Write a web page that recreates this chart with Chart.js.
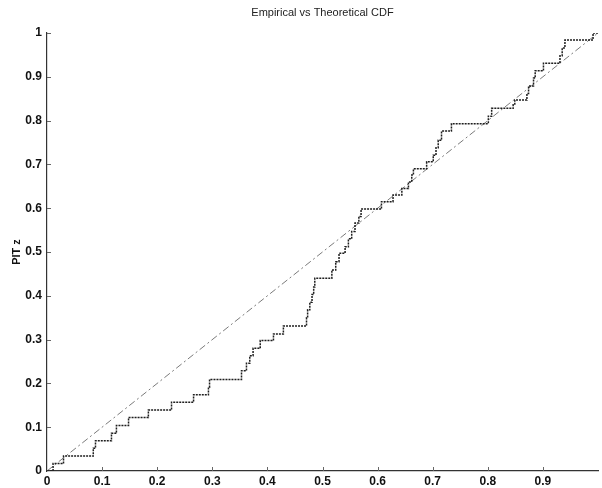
<!DOCTYPE html>
<html><head><meta charset="utf-8">
<script src="https://cdn.jsdelivr.net/npm/chart.js@4.4.0/dist/chart.umd.min.js"></script>
<style>html,body{margin:0;padding:0;background:#fff}#wrap{width:602px;height:488px}</style>
</head><body><div id="wrap"><canvas id="c" width="602" height="488"></canvas></div>
<script>
const chartTitle = 'Empirical vs Theoretical CDF';
const yAxisTitle = 'PIT z';

// Empirical CDF: jump locations and levels
const sampleX = [0, 0.011, 0.030, 0.084, 0.088, 0.117, 0.126, 0.148, 0.184, 0.226,
  0.266, 0.293, 0.295, 0.353, 0.362, 0.368, 0.374, 0.387, 0.411, 0.429,
  0.471, 0.473, 0.477, 0.481, 0.484, 0.486, 0.517, 0.524, 0.530, 0.541,
  0.547, 0.553, 0.559, 0.566, 0.570, 0.607, 0.628, 0.644, 0.656, 0.662,
  0.665, 0.689, 0.701, 0.706, 0.710, 0.716, 0.734, 0.801, 0.807, 0.846,
  0.849, 0.871, 0.874, 0.883, 0.886, 0.901, 0.931, 0.935, 0.940, 0.991, 1.0];
const empiricalCdf = [0, 0.017, 0.034, 0.052, 0.069, 0.086, 0.104, 0.122, 0.139, 0.157,
  0.174, 0.191, 0.209, 0.229, 0.246, 0.263, 0.280, 0.298, 0.313, 0.331,
  0.350, 0.368, 0.385, 0.403, 0.420, 0.440, 0.459, 0.478, 0.497, 0.512,
  0.530, 0.547, 0.566, 0.581, 0.598, 0.615, 0.630, 0.645, 0.660, 0.676,
  0.690, 0.706, 0.721, 0.738, 0.755, 0.776, 0.793, 0.810, 0.828, 0.836,
  0.847, 0.862, 0.879, 0.897, 0.914, 0.931, 0.948, 0.966, 0.984, 1.0, 1.0];

// Theoretical (uniform) CDF
const theoryX = [0, 1];
const theoryCdf = [0, 1];

const xTickValues = [0, 0.1, 0.2, 0.3, 0.4, 0.5, 0.6, 0.7, 0.8, 0.9, 1];
const xTickLabels = ['0', '0.1', '0.2', '0.3', '0.4', '0.5', '0.6', '0.7', '0.8', '0.9', ''];
const yTickValues = [0, 0.1, 0.2, 0.3, 0.4, 0.5, 0.6, 0.7, 0.8, 0.9, 1];
const yTickLabels = ['0', '0.1', '0.2', '0.3', '0.4', '0.5', '0.6', '0.7', '0.8', '0.9', '1'];

const FONT = '"Liberation Sans", Arial, sans-serif';

const inwardTicks = {
  id: 'inwardTicks',
  afterDatasetsDraw(chart) {
    const {ctx, chartArea: a, scales: {x, y}} = chart;
    ctx.save();
    ctx.strokeStyle = '#666';
    ctx.lineWidth = 1;
    ctx.beginPath();
    xTickValues.forEach(v => {
      if (v <= 0 || v >= 1) return;
      const px = Math.round(x.getPixelForValue(v)) + 0.5;
      ctx.moveTo(px, a.bottom); ctx.lineTo(px, a.bottom - 4);
    });
    yTickValues.forEach(v => {
      if (v <= 0) return;
      const py = Math.round(y.getPixelForValue(v)) + 0.5;
      ctx.moveTo(a.left, py); ctx.lineTo(a.left + 4, py);
    });
    ctx.stroke();
    ctx.restore();
  },
  afterDraw(chart) {
    const {ctx, chartArea: a} = chart;
    ctx.save();
    ctx.fillStyle = '#222';
    ctx.font = '11px ' + FONT;
    ctx.textAlign = 'center';
    ctx.textBaseline = 'middle';
    ctx.fillText(chartTitle, (a.left + a.right) / 2, 13);
    ctx.restore();
  }
};

new Chart(document.getElementById('c'), {
  type: 'scatter',
  data: {
    datasets: [
      {
        label: 'Empirical',
        data: sampleX.map((v, i) => ({x: v, y: empiricalCdf[i]})),
        showLine: true,
        stepped: true,
        borderColor: '#1e1e1e',
        borderWidth: 1.5,
        borderDash: [2, 1],
        pointRadius: 0,
        fill: false
      },
      {
        label: 'Theoretical',
        data: theoryX.map((v, i) => ({x: v, y: theoryCdf[i]})),
        showLine: true,
        borderColor: '#7a7a7a',
        borderWidth: 1,
        borderDash: [7, 3, 2, 3],
        pointRadius: 0,
        fill: false
      }
    ]
  },
  options: {
    responsive: false,
    animation: false,
    devicePixelRatio: 1,
    layout: {padding: {left: 0, right: 4, top: 33, bottom: 0}},
    plugins: {legend: {display: false}, title: {display: false}, tooltip: {enabled: false}},
    scales: {
      x: {
        type: 'linear', min: 0, max: 1,
        afterBuildTicks: s => { s.ticks = xTickValues.map(v => ({value: v})); },
        afterFit: s => { s.height = 17; },
        ticks: {
          autoSkip: false, maxRotation: 0, padding: 3, color: '#111',
          font: {family: FONT, size: 12, weight: 'bold'},
          callback: (v, i) => xTickLabels[i]
        },
        grid: {display: true, drawOnChartArea: false, drawTicks: false},
        border: {display: true, color: '#333', width: 1.2, dash: [1, 1]}
      },
      y: {
        type: 'linear', min: 0, max: 1,
        afterBuildTicks: s => { s.ticks = yTickValues.map(v => ({value: v})); },
        afterFit: s => { s.width = 47; },
        ticks: {
          autoSkip: false, padding: 5, color: '#111',
          font: {family: FONT, size: 12, weight: 'bold'},
          callback: (v, i) => yTickLabels[i]
        },
        title: {
          display: true, text: yAxisTitle, color: '#111',
          font: {family: FONT, size: 11, weight: 'bold'},
          padding: {top: 10, bottom: 0}
        },
        grid: {display: true, drawOnChartArea: false, drawTicks: false},
        border: {display: true, color: '#333', width: 1.2, dash: [1, 1]}
      }
    }
  },
  plugins: [inwardTicks]
});
</script>
</body></html>
